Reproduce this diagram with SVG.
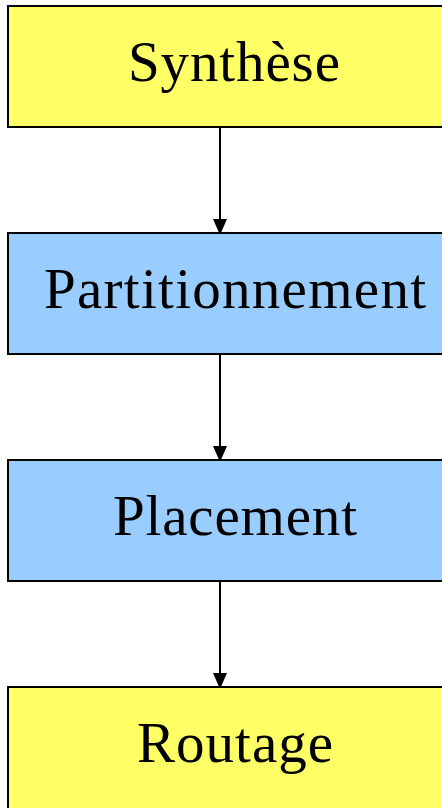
<svg xmlns="http://www.w3.org/2000/svg" width="442" height="808" viewBox="0 0 442 808">
<style>
.box{stroke:#000;stroke-width:2}
.y{fill:#FFFF66}
.b{fill:#99CCFF}
.t{font-family:"Liberation Serif","Times New Roman",serif;font-size:57px;fill:#000;text-anchor:middle}
.c{stroke:#000;stroke-width:2;fill:none}
</style>
<defs>
<marker id="ah" markerWidth="14" markerHeight="16" refX="14" refY="7" orient="auto" markerUnits="userSpaceOnUse">
<path d="M0,0 L16,7 L0,14 Z" fill="#000"/>
</marker>
</defs>
<g id="connectors">
<line class="c" x1="220" y1="127" x2="220" y2="233" marker-end="url(#ah)"/>
<line class="c" x1="220" y1="354" x2="220" y2="460" marker-end="url(#ah)"/>
<line class="c" x1="220" y1="581" x2="220" y2="687" marker-end="url(#ah)"/>
</g>
<g id="synthese">
<rect class="box y" x="8" y="6" width="460" height="121"/>
<text class="t" x="234" y="81" textLength="212" lengthAdjust="spacing">Synthèse</text>
</g>
<g id="partitionnement">
<rect class="box b" x="8" y="233" width="460" height="121"/>
<text class="t" x="235" y="308" textLength="382" lengthAdjust="spacing">Partitionnement</text>
</g>
<g id="placement">
<rect class="box b" x="8" y="460" width="460" height="121"/>
<text class="t" x="235" y="535" textLength="244" lengthAdjust="spacing">Placement</text>
</g>
<g id="routage">
<rect class="box y" x="8" y="687" width="460" height="130"/>
<text class="t" x="235" y="762" textLength="196" lengthAdjust="spacing">Routage</text>
</g>
</svg>
